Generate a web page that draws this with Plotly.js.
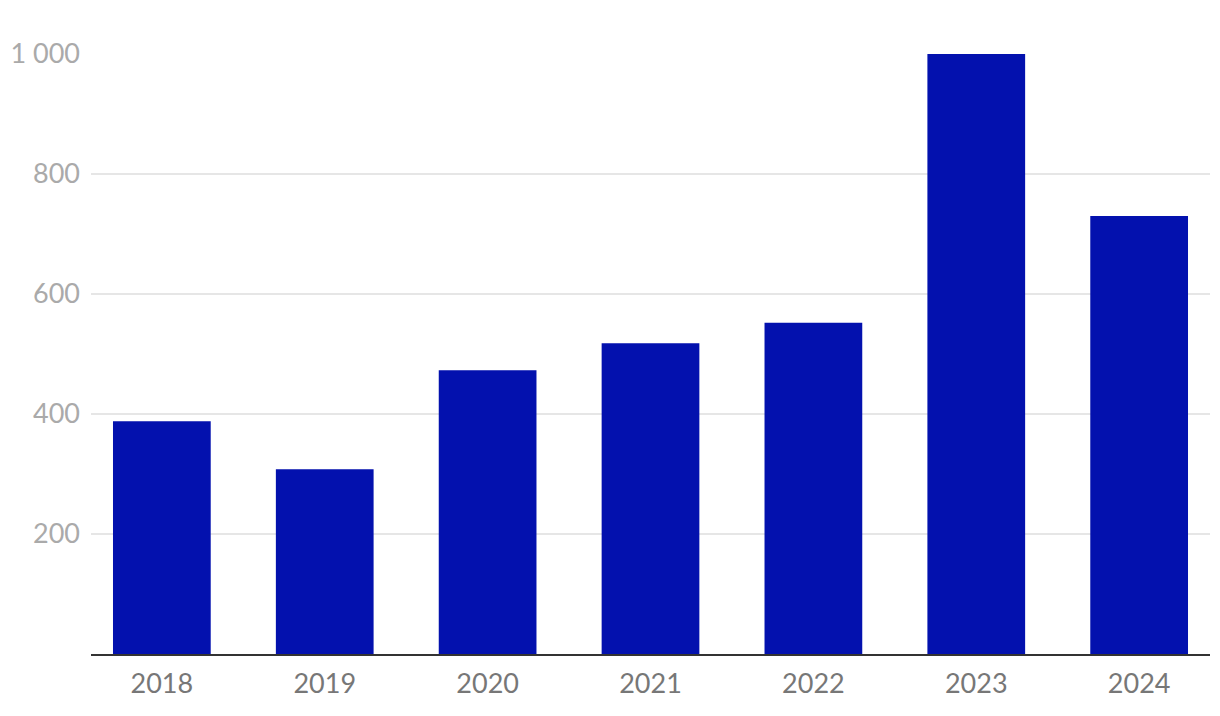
<!DOCTYPE html>
<html><head><meta charset="utf-8">
<script src="https://cdn.plot.ly/plotly-3.0.1.min.js"></script>
<style>html,body{margin:0;padding:0;background:#fff}#chart{width:1220px;height:716px}</style>
</head><body><div id="chart"></div>
<script>
const years = ['2018','2019','2020','2021','2022','2023','2024'];
const values = [388, 308, 473, 518, 552, 1000, 730];
const yTickVals = [200, 400, 600, 800, 1000];
const yTickText = ['200', '400', '600', '800', '1 000'];

Plotly.newPlot('chart', [{
  type: 'bar', x: years, y: values,
  marker: {color: '#0311ae'}, width: 0.6, hoverinfo: 'x+y'
}], {
  width: 1220, height: 716,
  margin: {l: 91, r: 10, t: 54, b: 62},
  paper_bgcolor: '#fff', plot_bgcolor: '#fff',
  font: {family: 'Lato, sans-serif'},
  showlegend: false,
  xaxis: {type: 'category', range: [-0.435, 6.435], showgrid: false,
    showline: true, linecolor: '#333', linewidth: 2, ticks: '',
    tickfont: {size: 27, color: '#777'}, ticklabelstandoff: 5},
  yaxis: {range: [0, 1000], tickvals: yTickVals, ticktext: yTickText,
    showgrid: true, gridcolor: '#e6e6e6', gridwidth: 2, zeroline: false,
    showline: false, ticks: '', tickfont: {size: 27, color: '#aaa'}, ticklabelstandoff: 10}
}, {displayModeBar: false, staticPlot: true});
</script></body></html>
